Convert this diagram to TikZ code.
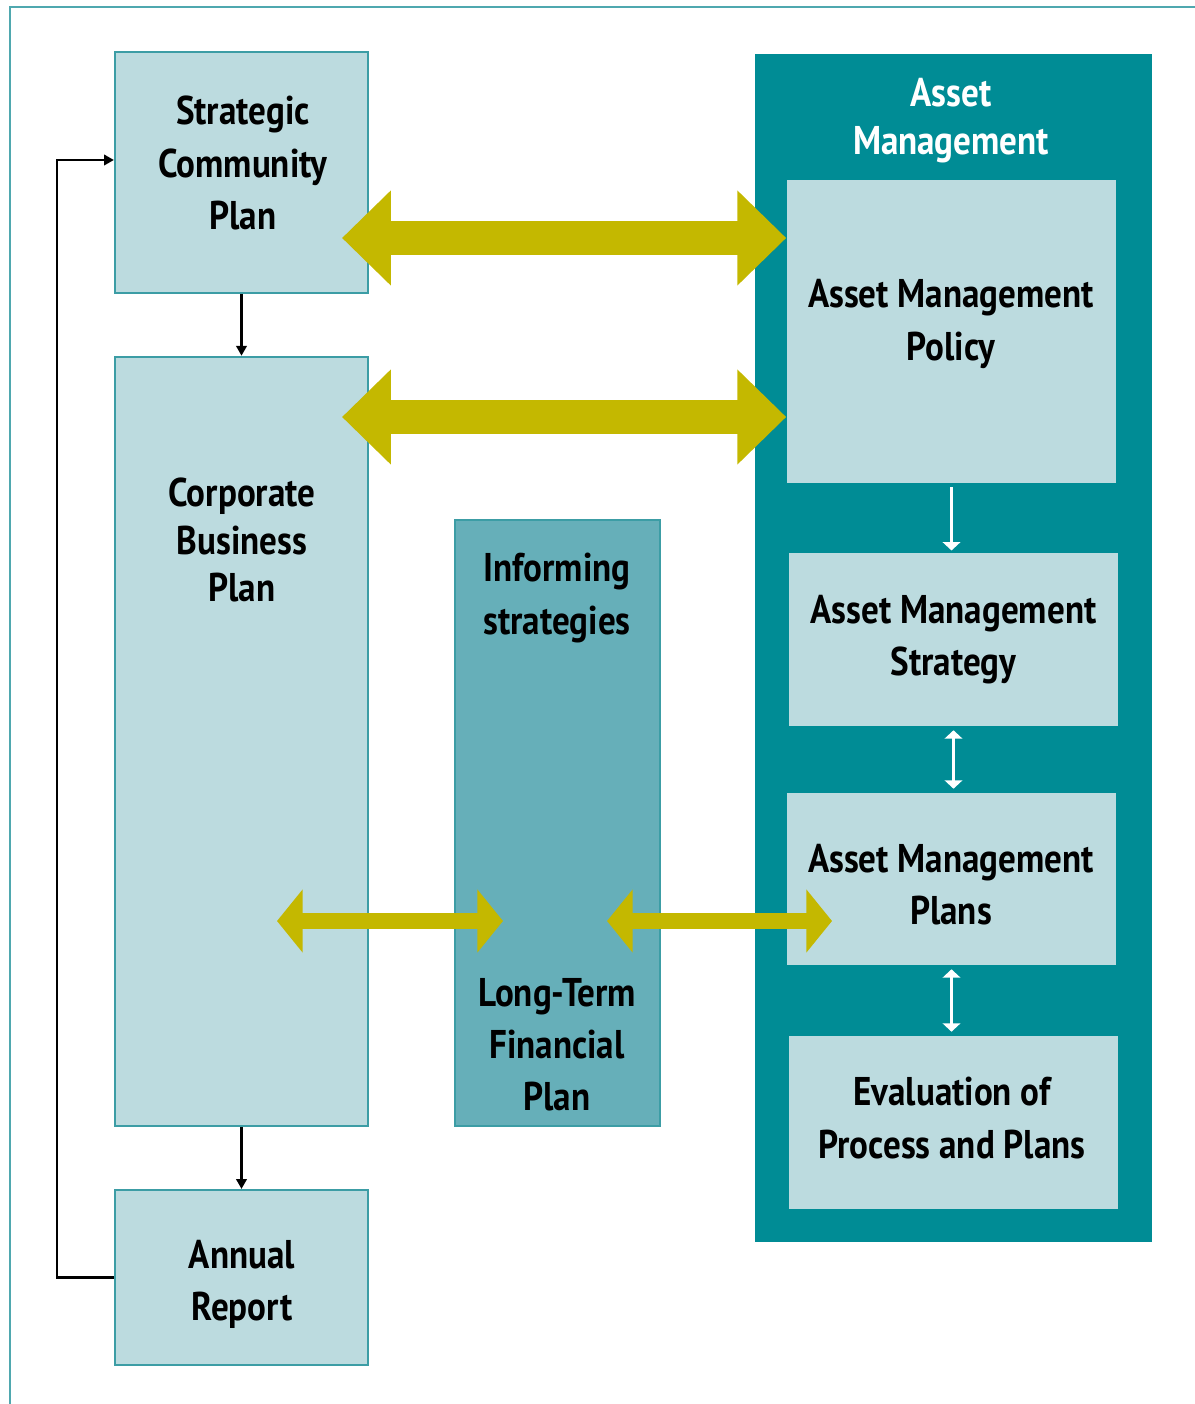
\documentclass[tikz,border=0pt]{standalone}
\usepackage{fontspec}
\setmainfont{PT Sans}[FakeStretch=0.875]
\usepackage{tikz}
\usetikzlibrary{arrows.meta, positioning}
\definecolor{paleteal}{HTML}{BCDBDF}
\definecolor{midteal}{HTML}{66AFB9}
\definecolor{darkteal}{HTML}{008C95}
\definecolor{edgeteal}{HTML}{3C9DA5}
\definecolor{frameteal}{HTML}{4FA8AF}
\definecolor{olive}{HTML}{C4B800}

\begin{document}
\begin{tikzpicture}[x=0.01cm, y=-0.01cm,
		every node/.style={font=\fontsize{11.4}{14.8}\selectfont\bfseries, align=center},
		tight/.style={font=\fontsize{11.4}{13.6}\selectfont\bfseries},
		box/.style={draw=edgeteal, line width=0.6pt, fill=paleteal, inner sep=0pt},
		inbox/.style={fill=paleteal, inner sep=0pt, minimum width=3.29cm},
		blk/.style={line width=0.6pt, -{Triangle[length=2.8pt, width=3pt]}},
		wht/.style={white, line width=0.6pt},
		whtip/.tip={Triangle[length=2.4pt, width=5pt]},
		bigarrow/.style={draw=olive, line width=9.4pt, {Triangle[length=13.9pt, width=26.2pt]}-{Triangle[length=13.9pt, width=26.2pt]}},
		smallarrow/.style={draw=olive, line width=4.8pt, {Triangle[length=7.3pt, width=17.6pt]}-{Triangle[length=7.3pt, width=17.6pt]}}]
		\useasboundingbox (0,0) rectangle (1195,1404);
		
		% frame
		\draw [frameteal, line width=0.6pt] (10,1404)--(10,7)--(1195,7);
		
		% left column
		\node [box, minimum width=2.53cm, minimum height=2.41cm] (scp) at (241.5,172.5) {};
		\node (scptext) at (243,163) {Strategic\\Community\\Plan};
		\node [box, minimum width=2.53cm, minimum height=7.69cm] (cbp) at (241.5,741.5) {};
		\node [tight] (cbptext) at (242,540) {Corporate\\Business\\Plan};
		\node [box, minimum width=2.53cm, minimum height=1.75cm] (ar) at (241.5,1277.5) {};
		\node (artext) at (242,1284) {Annual\\Report};
		
		% middle column
		\node [box, fill=midteal, minimum width=2.05cm, minimum height=6.06cm] (ifs) at (557.5,823) {};
		\node (ifstext) at (557,598) {Informing\\strategies};
		\node (ltfp) at (557,1045) {Long-Term\\Financial\\Plan};
		
		% asset management
		\node [fill=darkteal, minimum width=3.97cm, minimum height=11.88cm] (am) at (953.5,648) {};
		\node [tight, text=white] (amtitle) at (951,121) {Asset\\Management};
		\node [inbox, minimum height=3.03cm] (amp) at (951.5,331.5) {};
		\node (amptext) at (951,324) {Asset Management\\Policy};
		\node [inbox, minimum height=1.73cm] (ams) at (953.5,639.5) {Asset Management\\Strategy};
		\node [inbox, minimum height=1.72cm] (amplans) at (951.5,879) {};
		\node (plantext) at (951,885) {Asset Management\\Plans};
		\node [inbox, minimum height=1.73cm] (eval) at (953.5,1122.5) {};
		\node (evaltext) at (952,1118) {Evaluation of\\Process and Plans};
		
		% links
		\draw [blk] (scp.south)--(cbp.north);
		\draw [blk] (cbp.south)--(ar.north);
		\coordinate (back) at (57,160);
		\draw [blk] (ar.west) -| (back) -- (scp.west |- back);
		
		\draw [wht, -whtip] ([yshift=-1pt]amp.south) -- ([yshift=0.5pt]amp.south |- ams.north);
		\foreach \a/\b in {ams/amplans, amplans/eval}{
			\draw [wht, whtip-whtip] ([yshift=-1pt]\a.south) -- ([yshift=1pt]\a.south |- \b.north);
		}
		
		\coordinate (l1) at (342,238);
		\coordinate (l2) at (342,417);
		\draw [bigarrow] (l1)--(amp.west |- l1);
		\draw [bigarrow] (l2)--(amp.west |- l2);
		\coordinate (l3) at (277,921);
		\coordinate (r3) at (503,921);
		\coordinate (l4) at (607,921);
		\coordinate (r4) at (832,921);
		\draw [smallarrow] (l3)--(r3);
		\draw [smallarrow] (l4)--(r4);
	\end{tikzpicture}
\end{document}
